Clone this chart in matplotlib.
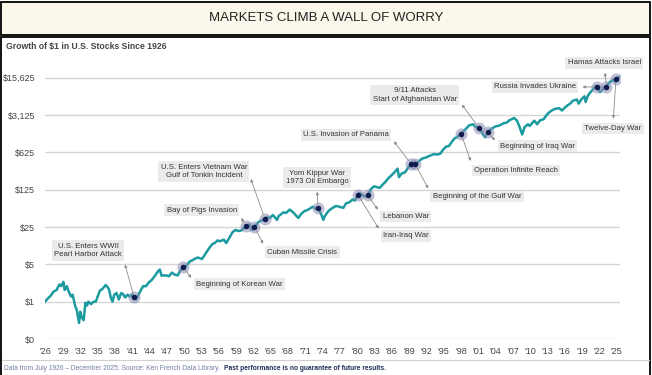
import numpy as np
import matplotlib.pyplot as plt
from matplotlib.patches import Rectangle

plt.rcParams['font.family'] = ['Liberation Sans Narrow', 'Liberation Sans', 'DejaVu Sans']

# growth of $1 (decimal year, dollars)
years = [1926.5, 1927.0, 1927.5, 1928.0, 1928.5, 1929.0, 1929.3, 1929.7, 1929.9, 1930.3,
         1930.6, 1931.0, 1931.3, 1931.7, 1932.0, 1932.4, 1932.6, 1932.9, 1933.2, 1933.5,
         1933.8, 1934.0, 1934.5, 1934.9, 1935.3, 1935.7, 1936.0, 1936.5, 1937.0, 1937.3,
         1937.6, 1937.9, 1938.2, 1938.5, 1938.9, 1939.3, 1939.7, 1940.0, 1940.4, 1940.8,
         1941.2, 1941.6, 1941.95, 1942.3, 1942.7, 1943.0, 1943.5, 1944.0, 1944.5, 1945.0,
         1945.5, 1946.0, 1946.4, 1946.7, 1947.0, 1947.5, 1948.0, 1948.5, 1949.0, 1949.5,
         1950.0, 1950.48, 1950.8, 1951.3, 1951.7, 1952.0, 1952.5, 1953.0, 1953.7, 1954.0,
         1954.5, 1955.0, 1955.5, 1955.9, 1956.4, 1956.8, 1957.5, 1957.9, 1958.5, 1959.0,
         1959.5, 1960.0, 1960.5, 1960.9, 1961.3, 1961.9, 1962.4, 1962.8, 1963.5, 1964.0,
         1964.6, 1965.0, 1965.5, 1966.0, 1966.7, 1967.0, 1967.8, 1968.3, 1968.9, 1969.5,
         1970.4, 1970.9, 1971.5, 1972.0, 1972.9, 1973.4, 1973.8, 1974.3, 1974.75, 1975.0,
         1975.5, 1976.0, 1976.9, 1977.5, 1978.2, 1978.7, 1979.2, 1979.8, 1980.2, 1980.75,
         1981.0, 1981.7, 1982.2, 1982.45, 1982.9, 1983.5, 1984.0, 1984.5, 1985.0, 1985.5,
         1986.0, 1986.5, 1987.0, 1987.6, 1987.85, 1988.3, 1988.9, 1989.5, 1989.95, 1990.3,
         1990.6, 1990.8, 1991.2, 1991.9, 1992.5, 1993.0, 1993.9, 1994.5, 1995.0, 1995.5,
         1996.0, 1996.5, 1997.0, 1997.5, 1997.9, 1998.6, 1998.75, 1999.0, 1999.5, 2000.0,
         2000.7, 2001.0, 2001.7, 2002.0, 2002.5, 2002.8, 2003.2, 2003.8, 2004.5, 2005.3,
         2006.0, 2006.5, 2007.0, 2007.8, 2008.3, 2008.8, 2009.2, 2009.6, 2010.2, 2010.5,
         2011.3, 2011.8, 2012.3, 2012.9, 2013.5, 2014.0, 2014.5, 2015.0, 2015.6, 2016.1,
         2016.6, 2017.0, 2017.5, 2018.0, 2018.7, 2018.98, 2019.5, 2020.0, 2020.2, 2020.6,
         2021.0, 2021.5, 2021.95, 2022.15, 2022.7, 2023.0, 2023.5, 2023.8, 2024.0, 2024.5,
         2024.95, 2025.3, 2025.45, 2025.95]
values = [1.00, 1.15, 1.30, 1.55, 1.65, 2.10, 1.95, 2.35, 1.65, 1.95,
          1.55, 1.25, 1.35, 0.85, 0.70, 0.40, 0.65, 0.50, 0.45, 0.95,
          0.85, 1.00, 0.90, 1.00, 1.00, 1.30, 1.60, 1.75, 2.05, 1.90,
          1.70, 1.20, 1.00, 1.35, 1.45, 1.10, 1.45, 1.40, 1.20, 1.35,
          1.25, 1.35, 1.20, 1.10, 1.35, 1.55, 1.95, 1.95, 2.30, 2.55,
          3.00, 3.60, 4.00, 3.05, 3.10, 3.10, 3.00, 3.50, 3.20, 3.10,
          3.90, 4.40, 4.50, 5.20, 5.80, 5.90, 6.40, 6.70, 6.30, 7.00,
          8.50, 10.2, 12.0, 12.5, 14.0, 13.5, 14.5, 12.5, 16.0, 20.0,
          22.0, 21.0, 21.5, 23.5, 26.0, 28.0, 22.0, 25.0, 31.0, 33.0,
          36.0, 38.0, 37.0, 42.0, 34.0, 40.0, 47.0, 46.0, 53.0, 47.0,
          37.0, 44.0, 50.0, 52.0, 60.0, 55.0, 58.0, 45.0, 34.0, 40.0,
          48.0, 54.0, 62.0, 60.0, 57.0, 70.0, 72.0, 82.0, 78.0, 100.0,
          108.0, 95.0, 94.0, 98.0, 125.0, 145.0, 140.0, 135.0, 155.0, 175.0,
          205.0, 230.0, 260.0, 310.0, 215.0, 250.0, 265.0, 330.0, 380.0, 370.0,
          385.0, 350.0, 420.0, 480.0, 500.0, 530.0, 580.0, 570.0, 590.0, 700.0,
          800.0, 820.0, 980.0, 1150.0, 1200.0, 1400.0, 1250.0, 1550.0, 1750.0, 2000.0,
          2100.0, 1900.0, 1800.0, 1650.0, 1300.0, 1200.0, 1500.0, 1700.0, 1900.0, 2000.0,
          2200.0, 2250.0, 2500.0, 2750.0, 2450.0, 1800.0, 1350.0, 1850.0, 2100.0, 1950.0,
          2450.0, 2100.0, 2500.0, 2600.0, 3200.0, 3600.0, 3900.0, 4100.0, 4200.0, 3800.0,
          4300.0, 4700.0, 5100.0, 5800.0, 6100.0, 5100.0, 6200.0, 7000.0, 5500.0, 7200.0,
          8300.0, 9500.0, 11000.0, 10500.0, 8400.0, 9000.0, 10500.0, 10600.0, 11800.0, 13200.0,
          14200.0, 13300.0, 15000.0, 16000.0]

event_names = ["U.S. Enters WWII\nPearl Harbor Attack", "Beginning of Korean War",
               "Bay of Pigs Invasion", "Cuban Missile Crisis",
               "U.S. Enters Vietnam War\nGulf of Tonkin Incident", "Yom Kippur War\n1973 Oil Embargo",
               "Iran-Iraq War", "Lebanon War", "U.S. Invasion of Panama", "Beginning of the Gulf War",
               "Operation Infinite Reach", "9/11 Attacks\nStart of Afghanistan War",
               "Beginning of Iraq War", "Russia Invades Ukraine", "Hamas Attacks Israel",
               "Twelve-Day War"]
event_dates = [1941.95, 1950.48, 1961.3, 1962.8, 1964.6, 1973.8, 1980.75, 1982.45, 1989.95,
               1990.6, 1998.6, 2001.7, 2003.2, 2022.15, 2023.8, 2025.45]

tick_years = list(range(1926, 2026, 3))
y_ticks = [0.2, 1, 5, 25, 125, 625, 3125, 15625]
y_labels = ['$0', '$1', '$5', '$25', '$125', '$625', '$3,125', '$15,625']

# label offsets in pixels from the marker, and where the leader meets the box
label_layout = [(-46, 47, (1, 0.3)), (56, -17, (0, 0.5)), (-44, 16, (1, 0.5)), (48, -25, (0, 0.5)),
                (-61, 47, (1, 0.7)), (-1, 30, (0.5, 0)), (48, -41, (0, 0.5)), (38, -21, (0, 0.5)),
                (-65, 29, (1, 0.5)), (62, -33, (0, 0.5)), (55, -37, (0, 0.5)), (-64, 33, (1, 0.3)),
                (50, -14, (0, 0.5)), (-62, 0, (1, 0.5)), (-2, 24, (0.5, 0)), (-3, -50, (0.5, 1))]

W, H = 652, 375
fig = plt.figure(figsize=(W / 100, H / 100), dpi=100)
fig.patch.set_facecolor('white')

# title box and panel frame
fig.patches.append(Rectangle((1 / W, 1 - 35 / H), 649 / W, 33 / H, transform=fig.transFigure,
                             facecolor='#fbf7ea', edgecolor='black', lw=1.3, zorder=-2))
fig.patches.append(Rectangle((1 / W, -0.01), 649 / W, 1 - 37 / H + 0.01, transform=fig.transFigure,
                             facecolor='white', edgecolor='black', lw=1.3, zorder=-2))
fig.text(0.5, 1 - 18 / H, 'MARKETS CLIMB A WALL OF WORRY', ha='center', va='center',
         fontsize=9.5, color='#222222')
fig.text(6 / W, 1 - 47 / H, 'Growth of $1 in U.S. Stocks Since 1926', ha='left', va='center',
         fontsize=6.2, fontweight='bold', color='#444444')

ax = fig.add_axes([45 / W, 1 - 339 / H, 575 / W, (339 - 60) / H])
ax.set_zorder(2)
ax.set_facecolor('none')
ax.set_yscale('log', base=5)
ax.set_ylim(0.2, 5 ** ((301.5 - 60) / 37.3))
ax.set_xlim(1926.5, 1926.5 + 575 / 5.77)
ax.set_yticks(y_ticks)
ax.set_yticklabels(y_labels)
ax.yaxis.set_minor_locator(plt.NullLocator())
ax.set_xticks([y + 0.6 for y in tick_years])
ax.set_xticklabels(["'" + str(y)[2:] for y in tick_years])
ax.tick_params(length=0, labelsize=6.5, colors='#444444')
ax.tick_params(axis='y', pad=7)
ax.tick_params(axis='x', pad=6)
for s in ax.spines.values():
    s.set_visible(False)
ax.grid(axis='y', color='#d6d6d6', lw=1)
ax.set_axisbelow(True)

ax.plot(years, values, color='#1b9aa0', lw=1.8, zorder=3)

ev_vals = np.exp(np.interp(event_dates, years, np.log(values)))
ax.scatter(event_dates, ev_vals, s=75, color='#8a8cb3', alpha=0.55, lw=0, zorder=4)
ax.scatter(event_dates, ev_vals, s=16, color='#0f1c4d', lw=0, zorder=5)

for name, d, v, (dx, dy, rp) in zip(event_names, event_dates, ev_vals, label_layout):
    ax.annotate(name, xy=(d, v), xytext=(dx, dy), textcoords='offset pixels',
                ha='center', va='center', fontsize=5.6, color='#333333', linespacing=1.3,
                bbox=dict(boxstyle='square,pad=0.3', fc='#ebebeb', ec='none'),
                arrowprops=dict(arrowstyle='<|-', color='#8c8c8c', lw=0.6, mutation_scale=4,
                                shrinkA=3, shrinkB=3, relpos=rp),
                annotation_clip=False, zorder=6)

# footer
fig.add_artist(plt.Line2D([2 / W, 649 / W], [1 - 360 / H, 1 - 360 / H], color='#cfcfcf', lw=0.8))
t1 = fig.text(4 / W, 1 - 369 / H,
              'Data from July 1926 \u2013 December 2025. Source: Ken French Data Library. ',
              fontsize=4.8, color='#6f7fa0', va='center', ha='left')
fig.canvas.draw()
bb = t1.get_window_extent()
fig.text(bb.x1 / W + 2 / W, 1 - 369 / H, 'Past performance is no guarantee of future results.',
         fontsize=4.8, color='#1f2d55', fontweight='bold', va='center', ha='left')

fig.savefig('out.png', dpi=100)
